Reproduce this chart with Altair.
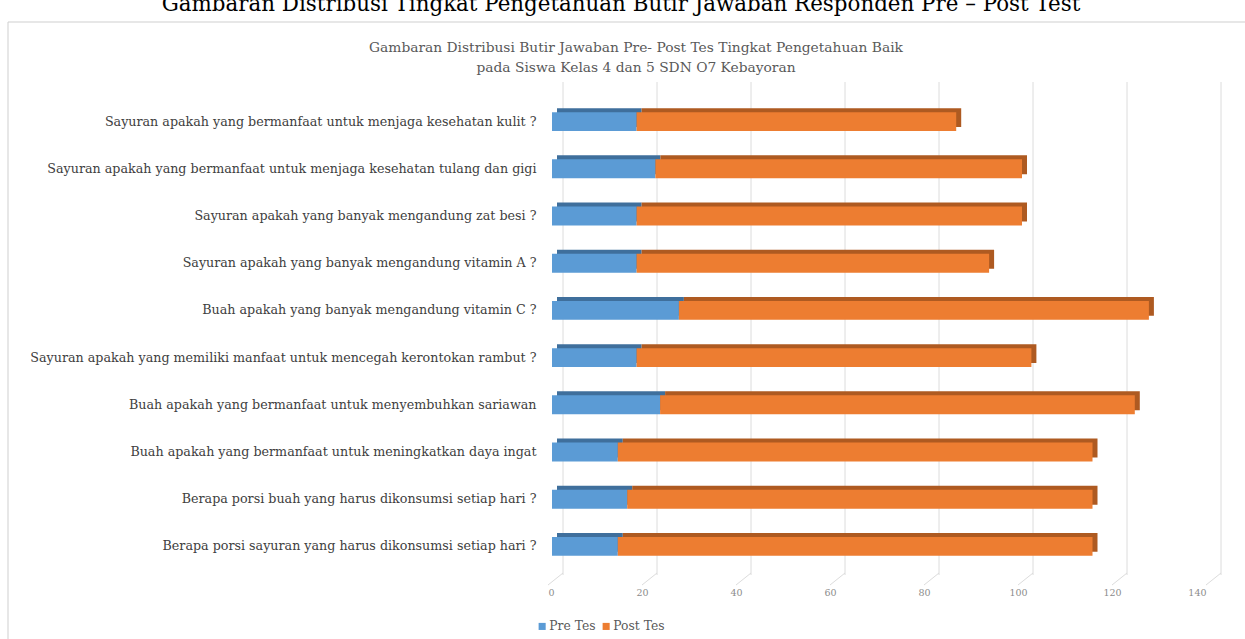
import altair as alt
import pandas as pd

questions = [
    "Sayuran apakah yang bermanfaat untuk menjaga kesehatan kulit ?",
    "Sayuran apakah yang bermanfaat untuk menjaga kesehatan tulang dan gigi",
    "Sayuran apakah yang banyak mengandung zat besi ?",
    "Sayuran apakah yang banyak mengandung vitamin A ?",
    "Buah apakah yang banyak mengandung vitamin C ?",
    "Sayuran apakah yang memiliki manfaat untuk mencegah kerontokan rambut ?",
    "Buah apakah yang bermanfaat untuk menyembuhkan sariawan",
    "Buah apakah yang bermanfaat untuk meningkatkan daya ingat",
    "Berapa porsi buah yang harus dikonsumsi setiap hari ?",
    "Berapa porsi sayuran yang harus dikonsumsi setiap hari ?",
]
pre_tes = [18, 22, 18, 18, 27, 18, 23, 14, 16, 14]
post_tes = [68, 78, 82, 75, 100, 84, 101, 101, 99, 101]
series = ["Pre Tes", "Post Tes"]
x_ticks = [0, 20, 40, 60, 80, 100, 120, 140]
outer_title = "Gambaran Distribusi Tingkat Pengetahuan Butir Jawaban Responden Pre \u2013 Post Test"
inner_title_1 = "Gambaran Distribusi Butir Jawaban Pre- Post Tes Tingkat Pengetahuan Baik"
inner_title_2 = "pada Siswa Kelas 4 dan 5 SDN O7 Kebayoran"

rows = []
for q, a, b in zip(questions, pre_tes, post_tes):
    rows.append({"question": q, "series": series[0], "value": a, "ord": 0})
    rows.append({"question": q, "series": series[1], "value": b, "ord": 1})
df = pd.DataFrame(rows)

SERIF = "DejaVu Serif"
W, H = 658, 472

xscale = alt.Scale(domain=[0, 140], nice=False, zero=True)
yscale = alt.Scale(paddingInner=0.6, paddingOuter=0.3)
xaxis = alt.Axis(
    values=x_ticks,
    title=None,
    domain=False,
    ticks=False,
    grid=False,
    labelFont=SERIF,
    labelFontSize=9.5,
    labelColor="#8c8c8c",
    labelPadding=17,
    labelOffset=-4,
)

# frame box
frame = alt.Chart(pd.DataFrame({"k": [0]})).mark_rect(
    fillOpacity=0, stroke="#cfcfcf", strokeWidth=1
).encode(x=alt.value(-544), x2=alt.value(720), y=alt.value(-76), y2=alt.value(600))

# back-wall gridlines
grid_df = pd.DataFrame({"v": x_ticks})
grid = alt.Chart(grid_df).mark_rule(color="#dcdcdc", strokeWidth=1, xOffset=11).encode(
    x=alt.X("v:Q", scale=xscale, axis=xaxis),
    y=alt.value(-16),
    y2=alt.value(477),
)
diag = alt.Chart(grid_df).mark_rule(
    color="#dcdcdc", strokeWidth=1, xOffset=-4, x2Offset=11
).encode(
    x=alt.X("v:Q", scale=xscale, axis=xaxis),
    x2=alt.X2("v:Q"),
    y=alt.value(487),
    y2=alt.value(475),
)

# 3D depth faces (darker, shifted up-right)
depth = alt.Chart(df).mark_bar(
    xOffset=5, x2Offset=5, yOffset=-4, y2Offset=-4
).encode(
    x=alt.X("value:Q", stack="zero", scale=xscale, axis=xaxis),
    y=alt.Y("question:N", sort=questions, scale=yscale, axis=None),
    color=alt.Color(
        "series:N",
        scale=alt.Scale(domain=series, range=["#3f6f9c", "#ae5a21"]),
        legend=None,
    ),
    order=alt.Order("ord:Q"),
)

bars = alt.Chart(df).mark_bar().encode(
    x=alt.X("value:Q", stack="zero", scale=xscale, axis=xaxis),
    y=alt.Y(
        "question:N",
        sort=questions,
        scale=yscale,
        axis=alt.Axis(
            title=None,
            domain=False,
            ticks=False,
            grid=False,
            labelFont=SERIF,
            labelFontSize=12.7,
            labelColor="#404040",
            labelPadding=16,
            labelLimit=700,
        ),
    ),
    color=alt.Color(
        "series:N",
        scale=alt.Scale(domain=series, range=["#5b9bd5", "#ed7d31"]),
        legend=alt.Legend(
            title=None,
            orient="none",
            legendX=-16,
            legendY=522,
            direction="horizontal",
            symbolType="square",
            symbolSize=50,
            symbolStrokeWidth=0,
            labelFont=SERIF,
            labelFontSize=12.3,
            labelColor="#595959",
            columnPadding=4,
            labelOffset=1,
        ),
    ),
    order=alt.Order("ord:Q"),
)

one = pd.DataFrame({"k": [0]})
title_top = alt.Chart(one).mark_text(
    font=SERIF, fontSize=21.4, color="#000000", align="center", baseline="alphabetic",
    text=outer_title,
).encode(x=alt.value(69), y=alt.value(-87))

title_in1 = alt.Chart(one).mark_text(
    font=SERIF, fontSize=13.8, color="#595959", align="center", baseline="middle",
    text=inner_title_1,
).encode(x=alt.value(84), y=alt.value(-50))
title_in2 = alt.Chart(one).mark_text(
    font=SERIF, fontSize=13.8, color="#595959", align="center", baseline="middle",
    text=inner_title_2,
).encode(x=alt.value(84), y=alt.value(-30))

chart = alt.layer(
    frame, grid, diag, depth, bars, title_top, title_in1, title_in2
).resolve_scale(
    color="independent", y="independent"
).properties(
    width=W,
    height=H,
    padding={"left": 552, "top": 98, "right": 35, "bottom": 69},
    autosize=alt.AutoSizeParams(type="none"),
    background="#ffffff",
).configure_view(stroke=None)

chart.save("out.html", embed_options={"renderer": "svg", "actions": False})
